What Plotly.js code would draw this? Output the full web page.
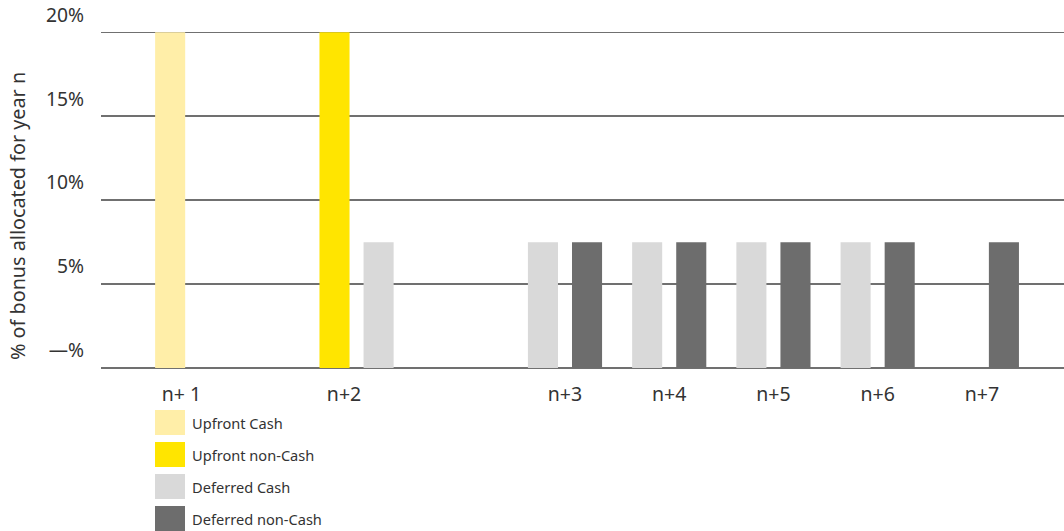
<!DOCTYPE html>
<html>
<head>
<meta charset="utf-8">
<script src="https://cdn.plot.ly/plotly-3.0.1.min.js"></script>
<style>
  html, body { margin: 0; padding: 0; background: #fff; }
  #chart { width: 1064px; height: 531px; }
</style>
</head>
<body>
<div id="chart"></div>
<script>
// ---- Data ----
const categories = ["n+ 1", " ", "n+2", "  ", "n+3", "n+4", "n+5", "n+6", "n+7"];
const xTickLabels = ["n+ 1", "n+2", "n+3", "n+4", "n+5", "n+6", "n+7"];
const seriesNames = ["Upfront Cash", "Upfront non-Cash", "Deferred Cash", "Deferred non-Cash"];
const upfrontCash     = [20,   null, null, null, null, null, null, null, null];
const upfrontNonCash  = [null, null, 20,   null, null, null, null, null, null];
const deferredCash    = [null, null, 7.5,  null, 7.5,  7.5,  7.5,  7.5,  null];
const deferredNonCash = [null, null, null, null, 7.5,  7.5,  7.5,  7.5,  7.5];
const yTickValues = [0, 5, 10, 15, 20];
const yTickLabels = ["\u2014%", "5%", "10%", "15%", "20%"];
const yTitle = "% of bonus allocated for year n";

// ---- Styles ----
const colors = ["#FFEEA8", "#FFE500", "#D9D9D9", "#6D6D6D"];
const FONT = "Noto Sans, Open Sans, sans-serif";
const TEXT = "#333333";
const GRID = "#707070";
const BAR_W = 0.2885;
const LEFT = -0.2115 - BAR_W / 2;
const RIGHT = 0.2115 - BAR_W / 2;
// label nudges (in category units) so the labels sit where the reference puts them
const labelNudge = { "n+ 1": 0.32, "n+2": -0.12 };

// plot area in pixels
const M = { l: 101, r: 0, t: 29, b: 163 };
const W = 1064, H = 531;
const PW = W - M.l - M.r, PH = H - M.t - M.b;
const px = x => (x - M.l) / PW;
const py = y => (H - M.b - y) / PH;

const seriesValues = [upfrontCash, upfrontNonCash, deferredCash, deferredNonCash];
const offsets = [
  categories.map(() => RIGHT),
  categories.map(() => LEFT),
  categories.map(c => c === "n+2" ? RIGHT : LEFT),
  categories.map(() => RIGHT)
];

const traces = seriesNames.map((name, i) => ({
  type: "bar",
  name: name,
  x: categories,
  y: seriesValues[i],
  width: BAR_W,
  offset: offsets[i],
  marker: { color: colors[i], line: { width: 0 } },
  hoverinfo: "x+y+name",
  showlegend: false
}));

const xTickVals = xTickLabels.map(l => categories.indexOf(l) + (labelNudge[l] || 0));

// custom legend (swatches + labels)
const shapes = [];
const annotations = [];
seriesNames.forEach((name, i) => {
  const top = 410 + i * 32;
  shapes.push({
    type: "rect", xref: "paper", yref: "paper",
    x0: px(155), x1: px(185), y0: py(top + 25), y1: py(top),
    fillcolor: colors[i], line: { width: 0 }
  });
  annotations.push({
    xref: "paper", yref: "paper", x: px(190), y: py(top + 12.5),
    xanchor: "left", yanchor: "middle", showarrow: false,
    text: name, font: { family: FONT, size: 14.6, color: TEXT }
  });
});
annotations.push({
  xref: "paper", yref: "paper", x: px(17), y: py(216),
  xanchor: "center", yanchor: "middle", textangle: -90, showarrow: false,
  text: yTitle, font: { family: FONT, size: 19.8, color: TEXT }
});

const layout = {
  width: W, height: H,
  margin: M,
  paper_bgcolor: "#ffffff",
  plot_bgcolor: "#ffffff",
  barmode: "overlay",
  showlegend: false,
  font: { family: FONT, color: TEXT },
  xaxis: {
    type: "category",
    categoryorder: "array",
    categoryarray: categories,
    range: [-0.452, 8.788],
    tickmode: "array",
    tickvals: xTickVals,
    ticktext: xTickLabels,
    showgrid: false,
    zeroline: false,
    showline: false,
    ticks: "",
    ticklabelstandoff: 12,
    tickfont: { family: FONT, size: 19.5, color: TEXT },
    fixedrange: true
  },
  yaxis: {
    range: [0, 20.2],
    tickmode: "array",
    tickvals: yTickValues,
    ticktext: yTickLabels,
    showgrid: true,
    gridcolor: GRID,
    gridwidth: 1.6,
    zeroline: true,
    zerolinecolor: GRID,
    zerolinewidth: 1.6,
    showline: false,
    ticks: "",
    ticklabelposition: "outside top",
    ticklabelstandoff: 16,
    ticklabelshift: -4,
    tickfont: { family: FONT, size: 19.3, color: TEXT },
    fixedrange: true
  },
  shapes: shapes,
  annotations: annotations
};

Plotly.newPlot("chart", traces, layout, { displayModeBar: false, staticPlot: true });
</script>
</body>
</html>
